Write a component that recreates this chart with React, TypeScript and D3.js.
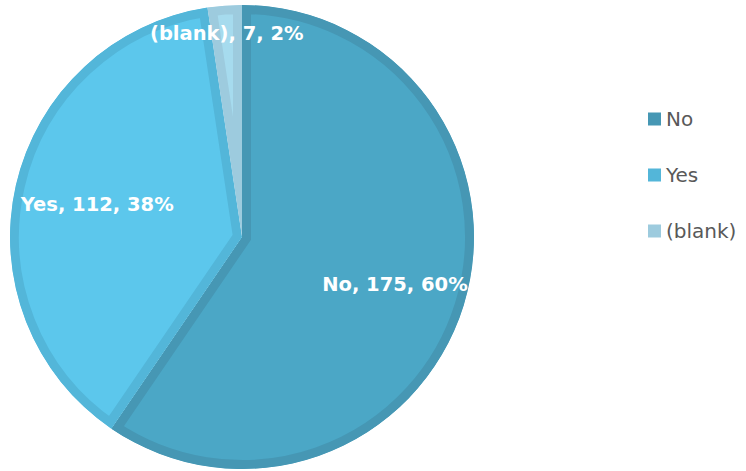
import React from "react";
import * as d3 from "d3";

const categories = ["No", "Yes", "(blank)"];
const values = [175, 112, 7];
const percents = ["60%", "38%", "2%"];
const fillColors = ["#4ba7c6", "#5cc7ec", "#a6dbee"];
const edgeColors = ["#4697b4", "#53b6d9", "#9dcbde"];
const labelRadiusFactors = [0.69, 0.64, 0.88];

const W = 746;
const H = 471;
const cx = 242;
const cy = 237;
const R = 232;

export default function App() {
  const pie = d3.pie<number>().sort(null).value((d) => d)(values);
  const arc = d3.arc<d3.PieArcDatum<number>>().innerRadius(0).outerRadius(R);
  const legendY = d3.scaleBand<string>().domain(categories).range([91, 259]);

  return (
    <svg
      width={W}
      height={H}
      style={{ position: "absolute", left: 0, top: 0, background: "#fff" }}
    >
      <defs>
        {pie.map((p, i) => (
          <clipPath id={`clip${i}`} key={i}>
            <path d={arc(p) || ""} transform={`translate(${cx},${cy})`} />
          </clipPath>
        ))}
      </defs>
      <g>
        {pie.map((p, i) => (
          <g key={i} clipPath={`url(#clip${i})`}>
            <path
              d={arc(p) || ""}
              transform={`translate(${cx},${cy})`}
              fill={fillColors[i]}
              stroke={edgeColors[i]}
              strokeWidth={18}
              strokeLinejoin="miter"
            />
          </g>
        ))}
      </g>
      <g
        fontFamily="'DejaVu Sans', sans-serif"
        fontWeight="bold"
        fontSize={19.5}
        fill="#ffffff"
        textAnchor="middle"
      >
        {pie.map((p, i) => {
          const a = (p.startAngle + p.endAngle) / 2;
          const r = R * labelRadiusFactors[i];
          const x = cx + r * Math.sin(a);
          const y = cy - r * Math.cos(a);
          return (
            <text key={i} x={x} y={y} dy="0.36em">
              {`${categories[i]}, ${values[i]}, ${percents[i]}`}
            </text>
          );
        })}
      </g>
      <g fontFamily="'DejaVu Sans', sans-serif" fontSize={20} fill="#595959">
        {categories.map((c, i) => {
          const y = (legendY(c) || 0) + legendY.bandwidth() / 2;
          return (
            <g key={c}>
              <rect x={648} y={y - 6.5} width={13} height={13} fill={edgeColors[i]} />
              <text x={666} y={y} dy="0.36em">
                {c}
              </text>
            </g>
          );
        })}
      </g>
    </svg>
  );
}
